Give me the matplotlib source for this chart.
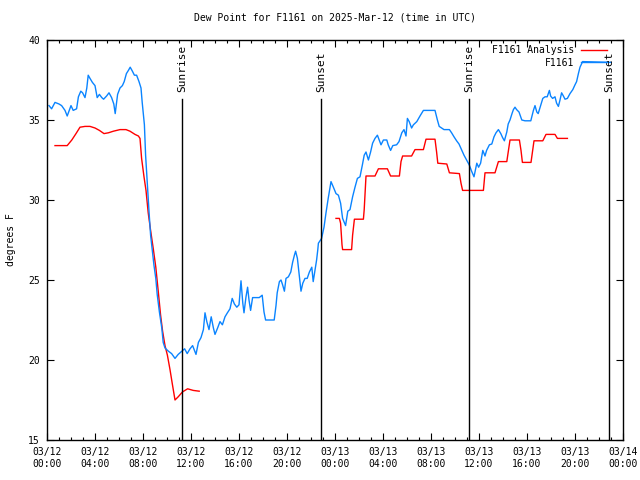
import numpy as np
import matplotlib
matplotlib.use("Agg")
import matplotlib.pyplot as plt
import matplotlib.dates as mdates

# hours after 2025-03-12 00:00 UTC
obs_hours = [0.17, 0.39, 0.67, 1.0, 1.22, 1.5, 1.69, 2.0, 2.19, 2.47, 2.61, 2.81, 2.97, 3.17,
             3.31, 3.44, 3.58, 3.78, 4.0, 4.19, 4.36, 4.56, 4.72, 4.97, 5.17, 5.39, 5.56, 5.69,
             5.89, 6.08, 6.28, 6.44, 6.61, 6.78, 6.94, 7.11, 7.28, 7.47, 7.67, 7.83, 7.94, 8.11,
             8.22, 8.36, 8.5, 8.64, 8.78, 8.92, 9.06, 9.19, 9.36, 9.56, 9.69, 9.83, 10.11, 10.39,
             10.67, 10.94, 11.31, 11.47, 11.69, 11.92, 12.14, 12.42, 12.61, 12.83, 13.03, 13.17,
             13.31, 13.5, 13.69, 13.86, 14.0, 14.22, 14.42, 14.61, 14.83, 15.03, 15.25, 15.44,
             15.61, 15.81, 16.0, 16.17, 16.31, 16.42, 16.58, 16.72, 16.83, 16.97, 17.14, 17.69,
             17.94, 18.08, 18.22, 18.94, 19.08, 19.19, 19.36, 19.5, 19.64, 19.78, 19.92, 20.11,
             20.31, 20.47, 20.61, 20.72, 20.86, 21.03, 21.17, 21.31, 21.5, 21.69, 21.86, 22.06,
             22.19, 22.36, 22.47, 22.56, 22.61, 22.89, 23.08, 23.25, 23.44, 23.67, 23.86, 24.08,
             24.28, 24.47, 24.64, 24.89, 25.06, 25.25, 25.47, 25.67, 25.86, 26.08, 26.28, 26.44,
             26.58, 26.78, 26.97, 27.14, 27.33, 27.53, 27.69, 27.83, 28.03, 28.31, 28.44, 28.64,
             28.81, 29.14, 29.33, 29.56, 29.75, 29.92, 30.03, 30.19, 30.39, 30.53, 30.81, 31.08,
             31.36, 32.33, 32.53, 32.69, 33.08, 33.53, 33.72, 33.92, 34.14, 34.33, 34.56, 34.75,
             34.97, 35.19, 35.39, 35.58, 35.81, 35.97, 36.14, 36.31, 36.5, 36.64, 36.86, 37.06,
             37.25, 37.42, 37.61, 37.81, 37.97, 38.11, 38.31, 38.44, 38.58, 38.75, 38.86, 39.0,
             39.14, 39.33, 39.56, 39.83, 40.31, 40.53, 40.67, 40.81, 40.94, 41.14, 41.31, 41.5,
             41.69, 41.86, 41.97, 42.14, 42.33, 42.47, 42.61, 42.75, 42.89, 43.03, 43.17, 43.36,
             43.58, 43.81, 44.0, 44.14, 44.28, 44.42, 44.64, 47.0]
obs_dewpt = [35.9, 35.7, 36.1, 36.0, 35.9, 35.6, 35.25, 35.9, 35.6, 35.7, 36.45, 36.8, 36.7, 36.4,
             37.0, 37.8, 37.6, 37.35, 37.15, 36.4, 36.6, 36.4, 36.3, 36.5, 36.7, 36.4, 36.0, 35.4,
             36.6, 37.0, 37.15, 37.4, 37.9, 38.1, 38.3, 38.05, 37.8, 37.8, 37.4, 37.0, 36.1, 34.7,
             32.8, 30.9, 29.3, 27.8, 26.8, 25.9, 25.1, 24.1, 23.0, 22.0, 21.1, 20.75, 20.55, 20.4,
             20.1, 20.35, 20.6, 20.7, 20.4, 20.7, 20.9, 20.35, 21.1, 21.4, 21.9, 22.95,
             22.4, 21.9, 22.7, 22.0, 21.6, 22.0, 22.4, 22.2, 22.7, 22.95, 23.2, 23.85,
             23.5, 23.3, 23.45, 24.95, 23.55, 22.95, 23.95, 24.55, 23.75, 23.1, 23.9, 23.9,
             24.05, 23.0, 22.5, 22.5, 23.4, 24.2, 24.9, 25.0, 24.7, 24.3, 25.1, 25.2,
             25.5, 26.1, 26.55, 26.8, 26.35, 25.2, 24.3, 24.8, 25.1, 25.1, 25.5, 25.8,
             24.9, 25.8, 26.25, 26.9, 27.3, 27.6, 28.3, 29.2, 30.1, 31.15, 30.8, 30.4,
             30.3, 29.8, 28.85, 28.4, 29.3, 29.4, 30.2, 30.8, 31.35, 31.45, 32.2, 32.8,
             33.0, 32.5, 33.0, 33.55, 33.85, 34.05, 33.75, 33.45, 33.75, 33.75, 33.45, 33.1,
             33.4, 33.45, 33.65, 34.2, 34.4, 34.0, 35.1, 34.9, 34.5, 34.7, 34.9, 35.25,
             35.6, 35.6, 35.0, 34.6, 34.4, 34.4, 34.2, 33.95, 33.7, 33.5, 33.1, 32.8,
             32.5, 32.2, 31.8, 31.45, 32.3, 32.05, 32.3, 33.1, 32.75, 33.1, 33.45, 33.5,
             33.95, 34.2, 34.4, 34.15, 33.9, 33.7, 34.25, 34.75, 35.0, 35.4, 35.65, 35.8,
             35.65, 35.5, 35.0, 34.95, 34.95, 35.6, 35.9, 35.5, 35.4, 35.9, 36.35, 36.45,
             36.45, 36.85, 36.5, 36.35, 36.45, 36.05, 35.85, 36.25, 36.7, 36.5, 36.3, 36.35,
             36.65, 36.9, 37.2, 37.4, 37.9, 38.3, 38.65, 38.6]

# analysis, two pieces with a gap between them
ana_hours_1 = [0.67, 1.69, 2.06, 2.42, 2.75, 3.17, 3.58, 4.0, 4.36, 4.75, 5.11, 5.53, 6.08, 6.58,
               6.92, 7.33, 7.61, 7.75, 7.89, 8.08, 8.25, 8.44, 8.64, 8.86, 9.06, 9.28, 9.47, 9.64,
               9.83, 10.03, 10.25, 10.44, 10.67, 10.94, 11.28, 11.72, 12.19, 12.69]
ana_dewpt_1 = [33.4, 33.4, 33.75, 34.15, 34.55, 34.6, 34.6, 34.5, 34.35, 34.15, 34.2, 34.3, 34.4,
               34.4, 34.3, 34.1, 34.0, 33.85, 32.6, 31.45, 30.6, 29.2, 28.1, 26.9, 25.8, 24.2, 22.8,
               21.8, 20.9, 20.3, 19.4, 18.55, 17.5, 17.7, 18.0, 18.2, 18.1, 18.05]
ana_hours_2 = [24.08, 24.36, 24.47, 24.58, 24.64, 25.39, 25.47, 25.61, 26.36, 26.44, 26.58, 27.33,
               27.61, 28.36, 28.64, 29.36, 29.5, 29.64, 30.39, 30.67, 31.36, 31.58, 32.33, 32.47,
               32.56, 33.31, 33.53, 34.36, 34.5, 34.64, 36.36, 36.5, 37.33, 37.61, 38.31, 38.58,
               39.36, 39.5, 39.61, 40.33, 40.58, 41.31, 41.58, 42.33, 42.53, 43.36]
ana_dewpt_2 = [28.85, 28.85, 28.55, 27.2, 26.9, 26.9, 27.8, 28.8, 28.8, 29.4, 31.5, 31.5, 31.95,
               31.95, 31.5, 31.5, 32.4, 32.75, 32.75, 33.15, 33.15, 33.8, 33.8, 33.0, 32.3, 32.25,
               31.7, 31.65, 31.05, 30.6, 30.6, 31.7, 31.7, 32.4, 32.4, 33.75, 33.75, 33.1, 32.35,
               32.35, 33.7, 33.7, 34.1, 34.1, 33.85, 33.85]

sun_hours = [11.25, 22.83, 35.17, 46.83]
sun_labels = ["Sunrise", "Sunset", "Sunrise", "Sunset"]

base = np.datetime64("2025-03-12T00:00")


def to_time(hours):
    mins = np.round(np.asarray(hours) * 60).astype(int)
    return (base + mins.astype("timedelta64[m]")).astype("datetime64[s]").astype(object)


FONT = "DejaVu Sans Mono"
plt.rcParams["font.family"] = FONT
plt.rcParams["font.size"] = 7

fig = plt.figure(figsize=(6.4, 4.8), dpi=100)
ax = fig.add_axes([47 / 640, 40 / 480, 576 / 640, 400 / 480])

blue = "#0a84ff"
red = "#ff0000"
ax.plot(to_time(ana_hours_1), ana_dewpt_1, color=red, lw=1.0, label="F1161 Analysis")
ax.plot(to_time(ana_hours_2), ana_dewpt_2, color=red, lw=1.0)
ax.plot(to_time(obs_hours), obs_dewpt, color=blue, lw=1.0, label="F1161")

for h, lab in zip(sun_hours, sun_labels):
    t = to_time([h])[0]
    ax.plot([t, t], [15, 36.3], color="black", lw=1.0)
    ax.text(t, 36.75, lab, rotation=90, ha="center", va="bottom", fontsize=8)

ax.set_xlim(to_time([0])[0], to_time([48])[0])
ax.set_ylim(15, 40)
ax.set_yticks([15, 20, 25, 30, 35, 40])
ax.xaxis.set_major_locator(mdates.HourLocator(byhour=[0, 4, 8, 12, 16, 20]))
ax.xaxis.set_minor_locator(mdates.HourLocator())
ax.xaxis.set_major_formatter(mdates.DateFormatter("%m/%d\n%H:%M"))
ax.tick_params(which="major", direction="in", length=5, width=0.8, top=True, right=True, pad=5)
ax.tick_params(which="minor", direction="in", length=2.5, width=0.8, top=True)
ax.tick_params(axis="y", which="minor", left=False, right=False)
for s in ax.spines.values():
    s.set_linewidth(1.0)

ax.set_ylabel("degrees F", labelpad=9)
ax.set_title("Dew Point for F1161 on 2025-Mar-12 (time in UTC)", pad=14, fontsize=7)

ax.legend(loc="upper right", bbox_to_anchor=(0.985, 1.007), frameon=False, markerfirst=False,
          handlelength=2.6, handletextpad=0.7, labelspacing=0.3, borderpad=0.3, fontsize=7)

fig.savefig("out.png", dpi=100)
